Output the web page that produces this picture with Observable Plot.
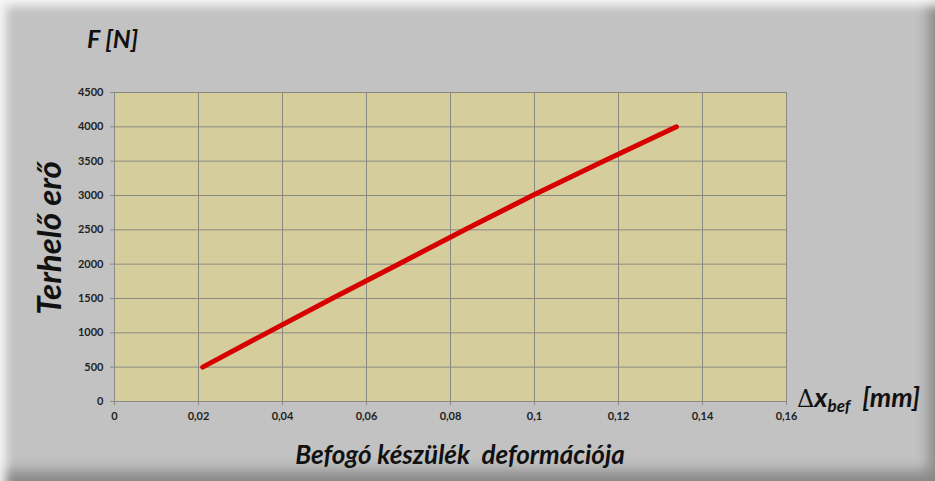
<!DOCTYPE html>
<html><head><meta charset="utf-8">
<script src="https://cdn.jsdelivr.net/npm/d3@7"></script>
<script src="https://cdn.jsdelivr.net/npm/@observablehq/plot@0.6"></script>
<style>
  body { margin: 0; background: #ffffff; }
  #frame {
    position: relative; width: 935px; height: 481px; overflow: hidden;
    background: #c2c2c2;
    box-shadow: inset 12px 12px 10px -6px rgba(255,255,255,0.85),
                inset -12px -16px 14px -6px rgba(0,0,0,0.30);
    font-family: Lato, "Open Sans", sans-serif;
  }
  #chart { position: absolute; left: 0; top: 0; }
  .lbl { position: absolute; font-weight: bold; font-style: italic; color: #111; white-space: pre; line-height: 1; }
  #ylab { left: 87px; top: 26px; font-size: 25px; }
  #yname { left: 48px; top: 238px; font-size: 33px; transform: translate(-50%, -50%) rotate(-90deg); }
  #xname { left: 460px; top: 454px; font-size: 26px; transform: translate(-50%, -50%); }
  #xlab { left: 797px; top: 383px; font-size: 27px; }
  #xlab .d { font-style: normal; font-weight: normal; font-family: "DejaVu Serif", serif; font-size: 24px; }
  #xlab sub { font-size: 17px; vertical-align: -5px; }
</style>
</head>
<body>
<div id="frame">
  <div id="chart"></div>
  <div class="lbl" id="ylab">F [N]</div>
  <div class="lbl" id="yname">Terhelő erő</div>
  <div class="lbl" id="xname">Befogó készülék  deformációja</div>
  <div class="lbl" id="xlab"><span class="d">Δ</span>x<sub>bef</sub>  [mm]</div>
</div>
<script>
const loads = [500, 1000, 1500, 2000, 2500, 3000, 3500, 4000];
const deformations = [0.021, 0.0363, 0.0518, 0.0676, 0.0834, 0.0995, 0.1164, 0.1338];
const xTicks = [0, 0.02, 0.04, 0.06, 0.08, 0.1, 0.12, 0.14, 0.16];
const yTicks = [0, 500, 1000, 1500, 2000, 2500, 3000, 3500, 4000, 4500];

const data = loads.map((F, i) => ({x: deformations[i], F}));

const chart = Plot.plot({
  width: 935, height: 481,
  marginLeft: 114, marginRight: 149, marginTop: 92, marginBottom: 80,
  style: {background: "transparent", fontFamily: "Lato, 'Open Sans', sans-serif", fontSize: "11px", fontWeight: "bold", color: "#1a1a1a"},
  x: {domain: [0, 0.16], label: null},
  y: {domain: [0, 4500], label: null},
  marks: [
    Plot.frame({fill: "#d6cd9c", stroke: null}),
    Plot.gridX(xTicks, {stroke: "#8a8a84", strokeOpacity: 1, strokeWidth: 1}),
    Plot.gridY(yTicks, {stroke: "#8a8a84", strokeOpacity: 1, strokeWidth: 1}),
    Plot.axisX(xTicks, {tickSize: 4, tickPadding: 7, stroke: "#8a8a84", fill: "#222",
      tickFormat: d => String(d).replace(".", ","), label: null}),
    Plot.axisY(yTicks, {tickSize: 4, tickPadding: 7, stroke: "#8a8a84", fill: "#222",
      tickFormat: d => String(d), label: null}),
    Plot.line(data, {x: "x", y: "F", stroke: "#d60000", strokeWidth: 5, strokeLinecap: "round", strokeLinejoin: "round"})
  ]
});
document.getElementById("chart").appendChild(chart);
</script>
</body></html>
